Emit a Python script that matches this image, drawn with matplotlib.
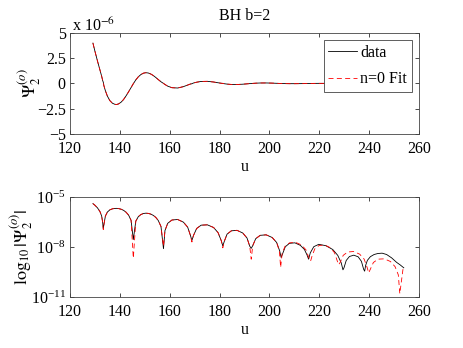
import numpy as np
import matplotlib
matplotlib.use('Agg')
import matplotlib.pyplot as plt
from matplotlib.ticker import NullLocator

# ---------------- data ----------------
# u positions and log10|Psi| for the "data" curve
data_u = [129.2, 130.0, 131.0, 132.0, 132.7, 133.1, 133.35,
          133.6, 134.2, 135.0, 136.0, 137.0, 138.0, 138.7, 139.5, 140.5, 141.5, 142.5, 143.5, 144.5, 145.4,
          146.4, 147.4, 148.4, 149.4, 150.4, 151.4, 152.4, 153.4, 154.4, 155.4, 156.5, 157.5,
          158.1, 159.2, 160.9, 163.2, 165.5, 167.2, 168.3, 168.9,
          169.5, 170.8, 172.6, 175.1, 177.6, 179.4, 180.7, 181.3,
          181.9, 183.0, 184.7, 187.0, 189.3, 191.0, 192.1, 192.7,
          193.3, 194.5, 196.3, 198.7, 201.1, 202.9, 204.1, 204.7,
          205.25, 206.35, 208.0, 210.2, 212.4, 214.05, 215.15, 215.7,
          216.4, 217.8, 219.8, 222.6, 225.4, 227.4, 228.8, 229.5,
          229.9, 230.8, 232.1, 233.85, 235.6, 236.9, 237.8, 238.2,
          238.6, 239.3, 240.5, 242.0, 243.5, 245.2, 247.0, 249.0, 251.0, 252.5, 253.9]
data_log = [-5.398, -5.495, -5.648, -5.870, -6.143, -6.523, -6.90,
            -6.658, -6.143, -5.903, -5.770, -5.710, -5.686, -5.682, -5.695, -5.733, -5.801, -5.914, -6.086, -6.398, -7.55,
            -6.444, -6.180, -6.056, -5.991, -5.971, -5.983, -6.027, -6.102, -6.222, -6.409, -6.770, -8.10,
            -7.01, -6.58, -6.38, -6.35, -6.51, -6.81, -7.30, -7.61,
            -7.32, -6.89, -6.69, -6.67, -6.83, -7.14, -7.63, -7.94,
            -7.66, -7.23, -7.03, -7.00, -7.16, -7.46, -7.95, -8.08,
            -7.92, -7.50, -7.30, -7.27, -7.43, -7.73, -8.23, -8.63,
            -8.42, -7.99, -7.78, -7.75, -7.90, -8.15, -8.50, -8.73,
            -8.35, -7.98, -7.84, -7.92, -8.15, -8.50, -8.95, -9.37,
            -9.25, -8.81, -8.57, -8.49, -8.59, -8.86, -9.34, -9.45,
            -9.10, -8.80, -8.58, -8.45, -8.39, -8.37, -8.45, -8.65, -8.92, -9.08, -9.25]
data_zeros = [133.35, 145.4, 157.5, 168.9, 181.3, 192.7, 204.7, 215.7, 229.5, 238.2]

# "n=0 Fit" curve
fit_u = [129.2, 130.0, 131.0, 132.0, 132.7, 133.1, 133.35,
         133.6, 134.2, 135.0, 136.0, 137.0, 138.0, 138.7, 139.5, 140.5, 141.5, 142.5, 143.5, 144.5, 145.4,
         146.4, 147.4, 148.4, 149.4, 150.4, 151.4, 152.4, 153.4, 154.4, 155.4, 156.5, 157.5,
         158.1, 159.2, 160.9, 163.2, 165.5, 167.2, 168.3, 168.9,
         169.5, 170.8, 172.6, 175.1, 177.6, 179.4, 180.7, 181.3,
         181.9, 183.0, 184.7, 187.0, 189.3, 191.0, 192.1, 192.7,
         193.3, 194.5, 196.3, 198.7, 201.1, 202.9, 204.0, 204.5,
         205.1, 206.3, 208.1, 210.5, 212.9, 214.7, 215.9, 216.5,
         217.1, 218.2, 219.9, 222.15, 224.4, 226.1, 227.2, 227.8,
         228.4, 229.6, 231.4, 233.8, 236.2, 238.0, 239.2, 239.8,
         240.4, 241.7, 243.55, 246.05, 248.55, 250.4, 251.7, 252.3, 253.6]
fit_log = [-5.398, -5.495, -5.648, -5.870, -6.143, -6.523, -6.95,
           -6.658, -6.143, -5.903, -5.770, -5.710, -5.686, -5.682, -5.695, -5.733, -5.801, -5.914, -6.086, -6.40, -8.67,
           -6.45, -6.180, -6.056, -5.991, -5.971, -5.983, -6.027, -6.102, -6.222, -6.409, -6.770, -7.95,
           -7.01, -6.58, -6.38, -6.35, -6.51, -6.81, -7.30, -7.70,
           -7.32, -6.89, -6.69, -6.67, -6.83, -7.14, -7.63, -8.05,
           -7.66, -7.23, -7.03, -7.00, -7.16, -7.46, -7.95, -8.73,
           -7.92, -7.50, -7.30, -7.27, -7.43, -7.73, -8.25, -9.22,
           -8.37, -7.95, -7.75, -7.72, -7.88, -8.18, -8.68, -8.85,
           -8.54, -8.11, -7.91, -7.88, -8.04, -8.34, -8.83, -9.06,
           -8.92, -8.50, -8.30, -8.27, -8.43, -8.73, -9.23, -9.55,
           -9.36, -8.93, -8.73, -8.71, -8.87, -9.18, -9.67, -10.8, -9.30]
fit_zeros = [133.35, 145.4, 157.5, 168.9, 181.3, 192.7, 204.5, 216.5, 227.8, 239.8, 252.3]

title = 'BH b=2'
labels = ['data', 'n=0 Fit']
top_yticks = [-5, -2.5, 0, 2.5, 5]
top_yticklabels = ['\u22125', '\u22122.5', '0', '2.5', '5']
xticks = [120, 140, 160, 180, 200, 220, 240, 260]
bot_yticks = [1e-11, 1e-8, 1e-5]


def signed(u, logs, zeros):
    u = np.asarray(u, float)
    mag = 10.0 ** np.asarray(logs, float)
    n = np.searchsorted(np.asarray(zeros), u, side='left')
    return mag * (-1.0) ** n


d_psi = signed(data_u, data_log, data_zeros)
f_psi = signed(fit_u, fit_log, fit_zeros)

# ---------------- figure ----------------
plt.rcParams['font.family'] = ['Liberation Serif', 'DejaVu Serif']
plt.rcParams['mathtext.fontset'] = 'stix'
fs = 11.5

W, H = 463, 348
fig = plt.figure(figsize=(W / 100, H / 100), dpi=100)
ax1 = fig.add_axes([70 / W, 1 - 134 / H, 349 / W, 101 / H])
ax2 = fig.add_axes([70 / W, 1 - 297 / H, 349 / W, 100 / H])

lw = 0.6
ax1.plot(data_u, d_psi * 1e6, color='black', lw=lw, label=labels[0])
ax1.plot(fit_u, f_psi * 1e6, color='red', lw=lw, ls=(0, (6, 4)), label=labels[1])
ax2.plot(data_u, np.abs(d_psi), color='black', lw=lw)
ax2.plot(fit_u, np.abs(f_psi), color='red', lw=lw, ls=(0, (6, 4)))

for ax in (ax1, ax2):
    ax.set_xlim(120, 260)
    ax.set_xticks(xticks)
    ax.tick_params(direction='in', top=True, right=True, length=3, width=0.5,
                   labelsize=fs)
    ax.tick_params(axis='x', pad=5)
    ax.tick_params(axis='y', pad=3)
    for s in ax.spines.values():
        s.set_linewidth(0.6)
        s.set_color('#444444')
    ax.set_xlabel('u', fontsize=fs, labelpad=1.5)

ax1.set_ylim(-5, 5)
ax1.set_yticks(top_yticks)
ax1.set_yticklabels(top_yticklabels)
ax1.set_ylabel(r'$\Psi_2^{(o)}$', fontsize=13, labelpad=-4)
ax1.set_title(title, fontsize=fs, pad=9)
fig.text(72 / W, 1 - 26 / H, r'x 10$^{-6}$', fontsize=fs, va='center', ha='left')

leg = ax1.legend(loc='upper right', fontsize=fs, fancybox=False, edgecolor='#444444',
                 framealpha=1, borderaxespad=0.45, handlelength=1.8,
                 labelspacing=0.65, handletextpad=0.2, borderpad=0.3)
leg.get_frame().set_linewidth(0.6)

ax2.set_yscale('log')
ax2.set_ylim(1e-11, 1e-5)
ax2.set_yticks(bot_yticks)
ax2.yaxis.set_minor_locator(NullLocator())
ax2.tick_params(which='minor', left=False, right=False)
ax2.set_ylabel(r'$\log_{10}|\Psi_2^{(o)}|$', fontsize=13, labelpad=-3)

fig.savefig('out.png', dpi=100)
